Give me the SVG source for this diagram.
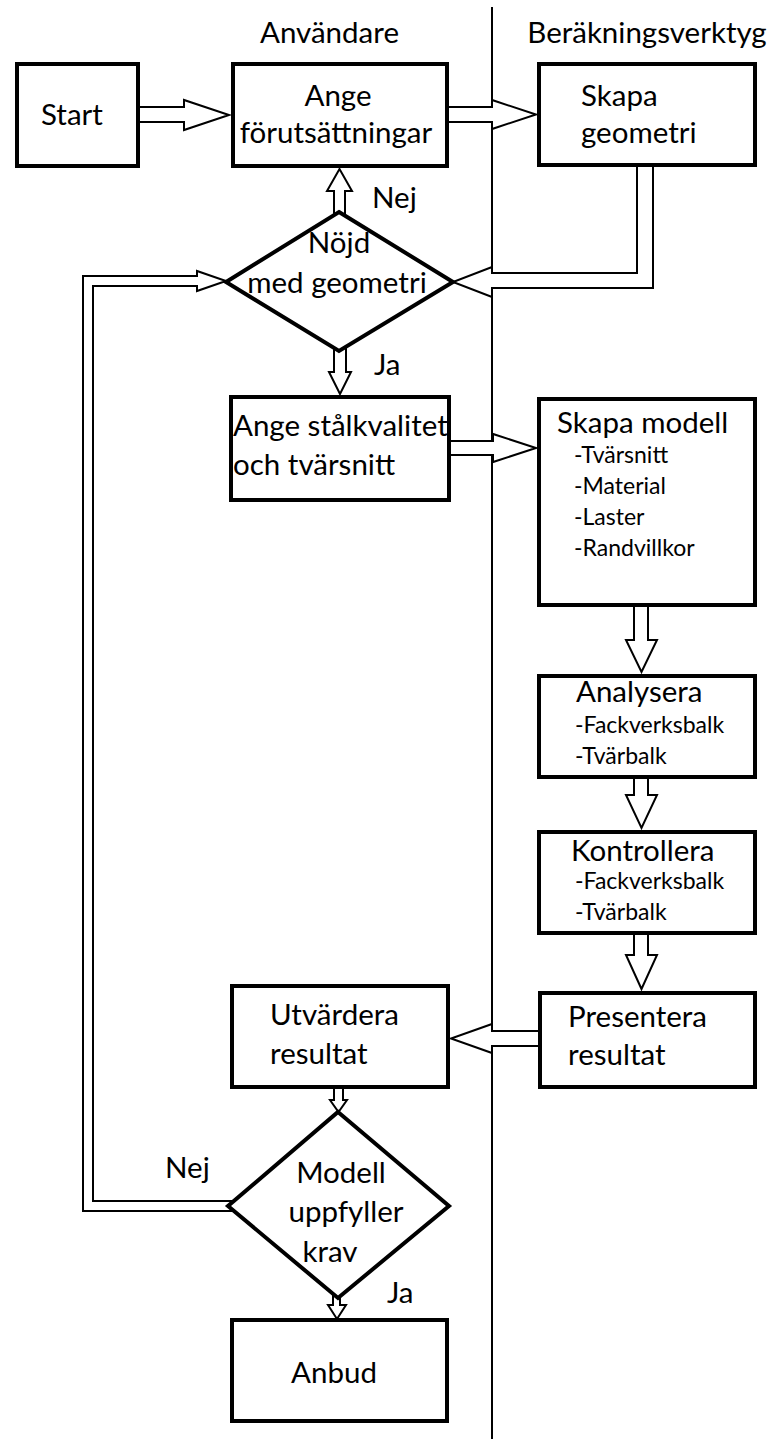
<svg xmlns="http://www.w3.org/2000/svg" width="768" height="1439" viewBox="0 0 768 1439">
  <style>
    .box { fill: #fff; stroke: #000; stroke-width: 4; }
    .dia { fill: #fff; stroke: #000; stroke-width: 4; stroke-linejoin: miter; }
    .arr { fill: #fff; stroke: #000; stroke-width: 2; stroke-linejoin: miter; }
    .lane { stroke: #000; stroke-width: 2; fill: none; }
    text { font-family: Lato, "Open Sans", "Liberation Sans", sans-serif; fill: #000; }
    .t { font-size: 29.5px; }
    .s { font-size: 23px; }
    .m { text-anchor: middle; }
  </style>
  <rect width="768" height="1439" fill="#fff"/>

  <!-- swimlane divider and lane headers -->
  <g id="lanes">
    <line class="lane" x1="492" y1="7" x2="492" y2="1439"/>
    <text class="t m" x="329.5" y="43">Användare</text>
    <text class="t m" x="647" y="43">Beräkningsverktyg</text>
  </g>

  <!-- hollow block arrows -->
  <g id="connectors">
    <polygon class="arr" points="138,107 184,107 184,100 229,115 184,130 184,122 138,122"/>
    <polygon class="arr" points="447,107 492,107 492,100 536,114.5 492,129 492,122 447,122"/>
    <polygon class="arr" points="637,165 637,273 492,273 492,267 453,282 492,297 492,288 653,288 653,165"/>
    <polygon class="arr" points="334,218 334,191 327,191 339.5,169 352,191 345,191 345,218"/>
    <polygon class="arr" points="334,345 334,372 329,372 340,394 351,372 346,372 346,345"/>
    <polygon class="arr" points="449,441 493,441 493,434 536,448 493,462 493,455 449,455"/>
    <polygon class="arr" points="634,605 634,640 626,640 641.5,672 657,640 648,640 648,605"/>
    <polygon class="arr" points="634,777 634,795 626,795 641.5,828 657,795 648,795 648,777"/>
    <polygon class="arr" points="634,933 634,955 626,955 641.5,989 657,955 648,955 648,933"/>
    <polygon class="arr" points="540,1031 492,1031 492,1024 451,1038.5 492,1053 492,1046 540,1046"/>
    <polygon class="arr" points="334,1087 334,1100 330,1100 338.5,1112 347,1100 343,1100 343,1087"/>
    <polygon class="arr" points="234,1211 83,1211 83,276 197,276 197,271 226,281 197,291 197,286 93,286 93,1201 234,1201"/>
    <polygon class="arr" points="333,1292 333,1305 328,1305 337,1319 346,1305 340,1305 340,1292"/>
    <text class="t" x="372" y="208">Nej</text>
    <text class="t" x="374" y="375">Ja</text>
    <text class="t" x="165" y="1178">Nej</text>
    <text class="t" x="387" y="1303">Ja</text>
  </g>

  <g id="start">
    <rect class="box" x="17" y="64" width="121" height="102"/>
    <text class="t" x="41" y="125">Start</text>
  </g>

  <g id="ange-forutsattningar">
    <rect class="box" x="233" y="64" width="214" height="102"/>
    <text class="t m" x="338" y="106">Ange</text>
    <text class="t m" x="336" y="143">förutsättningar</text>
  </g>

  <g id="skapa-geometri">
    <rect class="box" x="539" y="64" width="216" height="101"/>
    <text class="t" x="581" y="106">Skapa</text>
    <text class="t" x="581" y="143">geometri</text>
  </g>

  <g id="nojd-med-geometri">
    <polygon class="dia" points="339,212 453,282 339,351 226,282"/>
    <text class="t m" x="339" y="253">Nöjd</text>
    <text class="t m" x="337" y="293">med geometri</text>
  </g>

  <g id="ange-stalkvalitet">
    <rect class="box" x="231" y="397" width="218" height="103"/>
    <text class="t" x="233" y="436">Ange stålkvalitet</text>
    <text class="t" x="233" y="475">och tvärsnitt</text>
  </g>

  <g id="skapa-modell">
    <rect class="box" x="539" y="399" width="216" height="206"/>
    <text class="t" x="557" y="433">Skapa modell</text>
    <text class="s" x="574" y="463">-Tvärsnitt</text>
    <text class="s" x="574" y="494">-Material</text>
    <text class="s" x="574" y="525">-Laster</text>
    <text class="s" x="574" y="556">-Randvillkor</text>
  </g>

  <g id="analysera">
    <rect class="box" x="539" y="676" width="216" height="101"/>
    <text class="t" x="576" y="702">Analysera</text>
    <text class="s" x="575" y="733">-Fackverksbalk</text>
    <text class="s" x="575" y="764">-Tvärbalk</text>
  </g>

  <g id="kontrollera">
    <rect class="box" x="539" y="832" width="216" height="101"/>
    <text class="t" x="571" y="861">Kontrollera</text>
    <text class="s" x="575" y="889">-Fackverksbalk</text>
    <text class="s" x="575" y="920">-Tvärbalk</text>
  </g>

  <g id="presentera-resultat">
    <rect class="box" x="540" y="993" width="215" height="94"/>
    <text class="t" x="568" y="1027">Presentera</text>
    <text class="t" x="568" y="1065">resultat</text>
  </g>

  <g id="utvardera-resultat">
    <rect class="box" x="232" y="986" width="216" height="101"/>
    <text class="t" x="270" y="1025">Utvärdera</text>
    <text class="t" x="270" y="1064">resultat</text>
  </g>

  <g id="modell-uppfyller-krav">
    <polygon class="dia" points="338,1112 449,1206 338,1298 228,1206"/>
    <text class="t m" x="341" y="1183">Modell</text>
    <text class="t m" x="346" y="1222">uppfyller</text>
    <text class="t m" x="330" y="1262">krav</text>
  </g>

  <g id="anbud">
    <rect class="box" x="232" y="1320" width="215" height="101"/>
    <text class="t m" x="334" y="1383">Anbud</text>
  </g>
</svg>
